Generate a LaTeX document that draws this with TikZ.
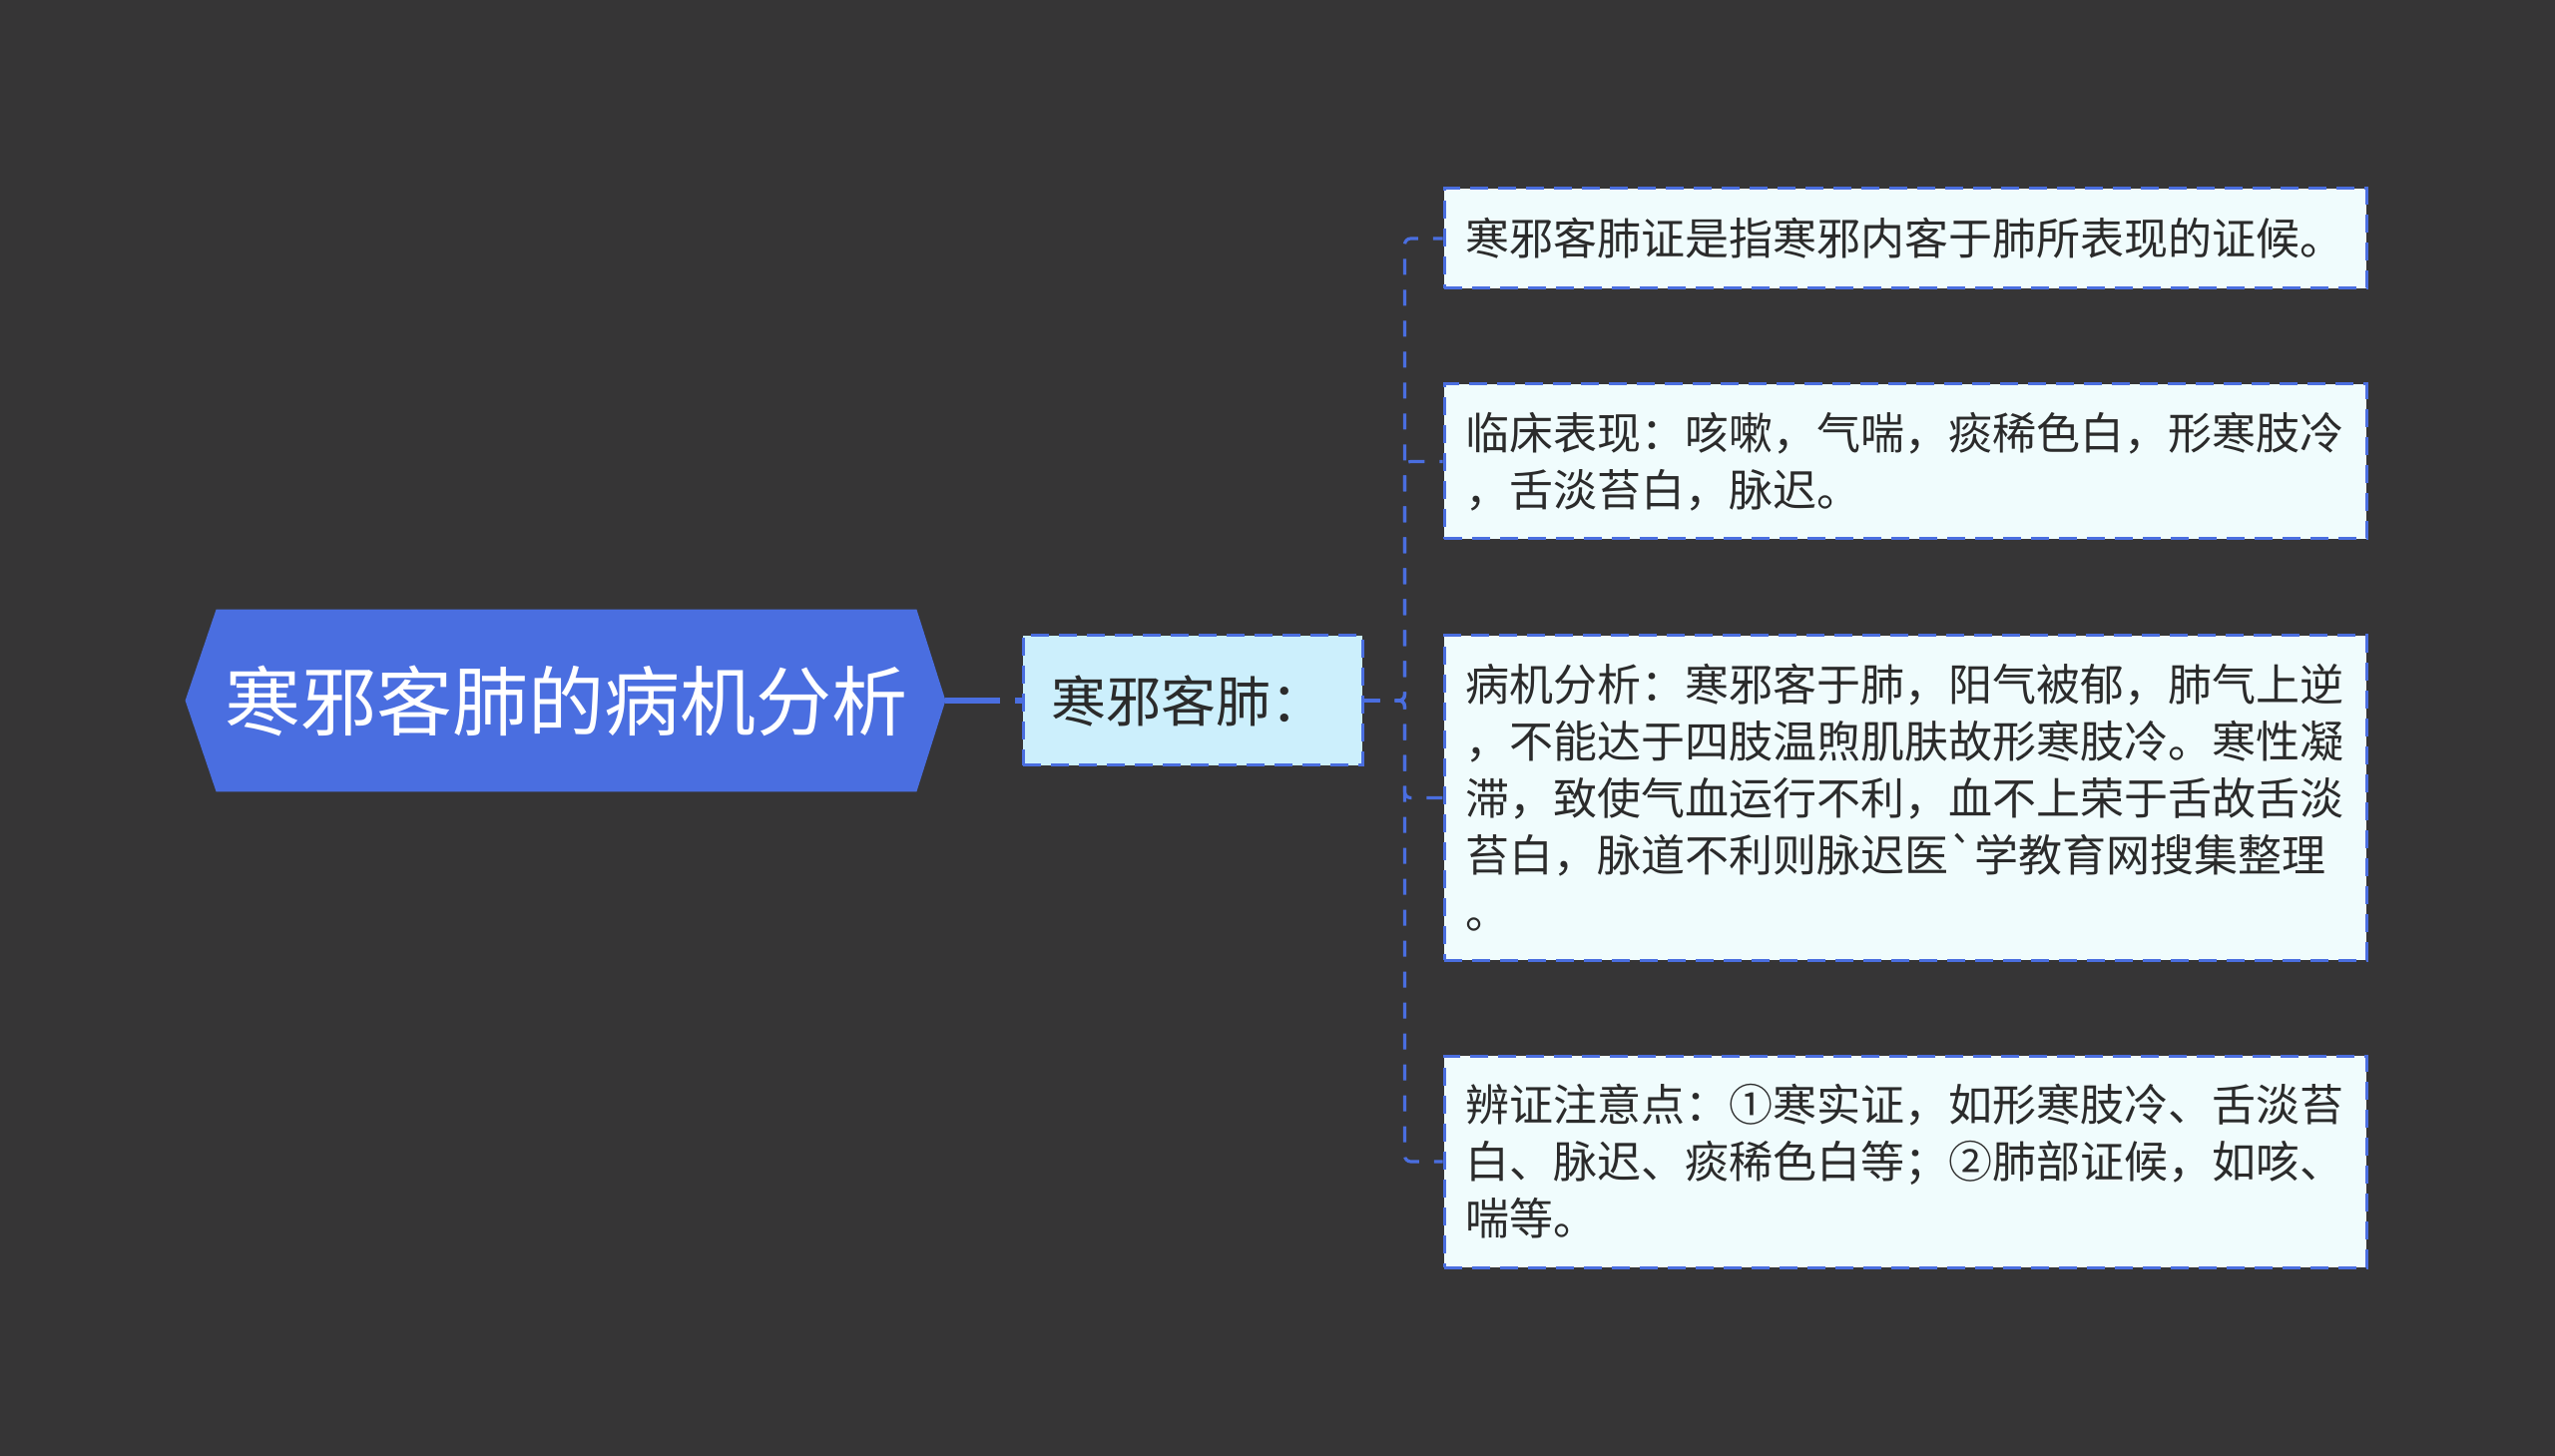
\documentclass[tikz,border=0pt]{standalone}
\usepackage{fontspec}
\setmainfont{Noto Sans CJK SC}[Ligatures=TeXOff]
\usepackage{tikz}
\usetikzlibrary{calc}
\usetikzlibrary{backgrounds}
\definecolor{bgdark}{HTML}{363536}
\definecolor{rootblue}{HTML}{4A6EE0}
\definecolor{linkblue}{HTML}{4A6EE0}
\definecolor{midfill}{HTML}{CCEFFC}
\definecolor{leaffill}{HTML}{F0FCFD}
\definecolor{textdark}{HTML}{2B2B2B}

\begin{document}
\begin{tikzpicture}[x=0.5pt,y=-0.5pt,
	rootbox/.style={shape=rectangle,minimum width=350.5pt,minimum height=91pt,inner sep=0pt,text=white,font=\fontsize{38pt}{45pt}\selectfont},
	midbox/.style={shape=rectangle,draw=linkblue,fill=midfill,line width=1.5pt,dash pattern=on 9pt off 5pt,minimum height=65pt,text width=142pt,inner xsep=14pt,align=left,text=textdark,font=\fontsize{27.5pt}{32pt}\selectfont},
	leafbox/.style={shape=rectangle,draw=linkblue,fill=leaffill,line width=1.5pt,dash pattern=on 9pt off 5pt,text width=441pt,inner xsep=10.5pt,inner ysep=0pt,align=left,text=textdark,font=\fontsize{22pt}{28.5pt}\selectfont},
	rootlink/.style={draw=rootblue,line width=3pt,dash pattern=on 27.5pt off 7.5pt},
	link/.style={draw=linkblue,line width=1.6pt,dash pattern=on 8pt off 7.5pt,rounded corners=3pt}]
	\useasboundingbox (0,0) rectangle (2560,1459);
	\draw (567.5,702) node (root) [rootbox] {寒邪客肺的病机分析};
	\draw (1195,702) node (mid) [midbox] {寒邪客肺：};
	\draw (1909,239) node (def) [leafbox,minimum height=50pt] {寒邪客肺证是指寒邪内客于肺所表现的证候。};
	\draw (1909,462.5) node (sign) [leafbox,minimum height=77.5pt] {临床表现：咳嗽，气喘，痰稀色白，形寒肢冷\\，舌淡苔白，脉迟。};
	\draw (1909,799.5) node (mech) [leafbox,minimum height=162.5pt] {病机分析：寒邪客于肺，阳气被郁，肺气上逆\\，不能达于四肢温煦肌肤故形寒肢冷。寒性凝\\滞，致使气血运行不利，血不上荣于舌故舌淡\\苔白，脉道不利则脉迟医`学教育网搜集整理\\。};
	\draw (1909,1164) node (note) [leafbox,minimum height=106pt] {辨证注意点：①寒实证，如形寒肢冷、舌淡苔\\白、脉迟、痰稀色白等；②肺部证候，如咳、\\喘等。};
	\begin{scope}[on background layer]
		\fill[bgdark] (0,0) rectangle (2560,1459);
		\fill[rootblue] ($(root.west)+(-31,0)$) -- (root.north west) -- (root.north east) -- ($(root.east)+(29,0)$) -- (root.south east) -- (root.south west) -- cycle;
	\end{scope}
	\coordinate (tip) at ($(root.east)+(29,0)$);
	\coordinate (fork) at ($(mid.east)+(41,0)$);
	\draw[rootlink] (tip) -- (mid.west);
	\draw[link] (mid.east) -- (fork) |- (def.west);
	\draw[link] (mid.east) -- (fork) |- (sign.west);
	\draw[link] (mid.east) -- (fork) |- (mech.west);
	\draw[link] (mid.east) -- (fork) |- (note.west);
\end{tikzpicture}
\end{document}
